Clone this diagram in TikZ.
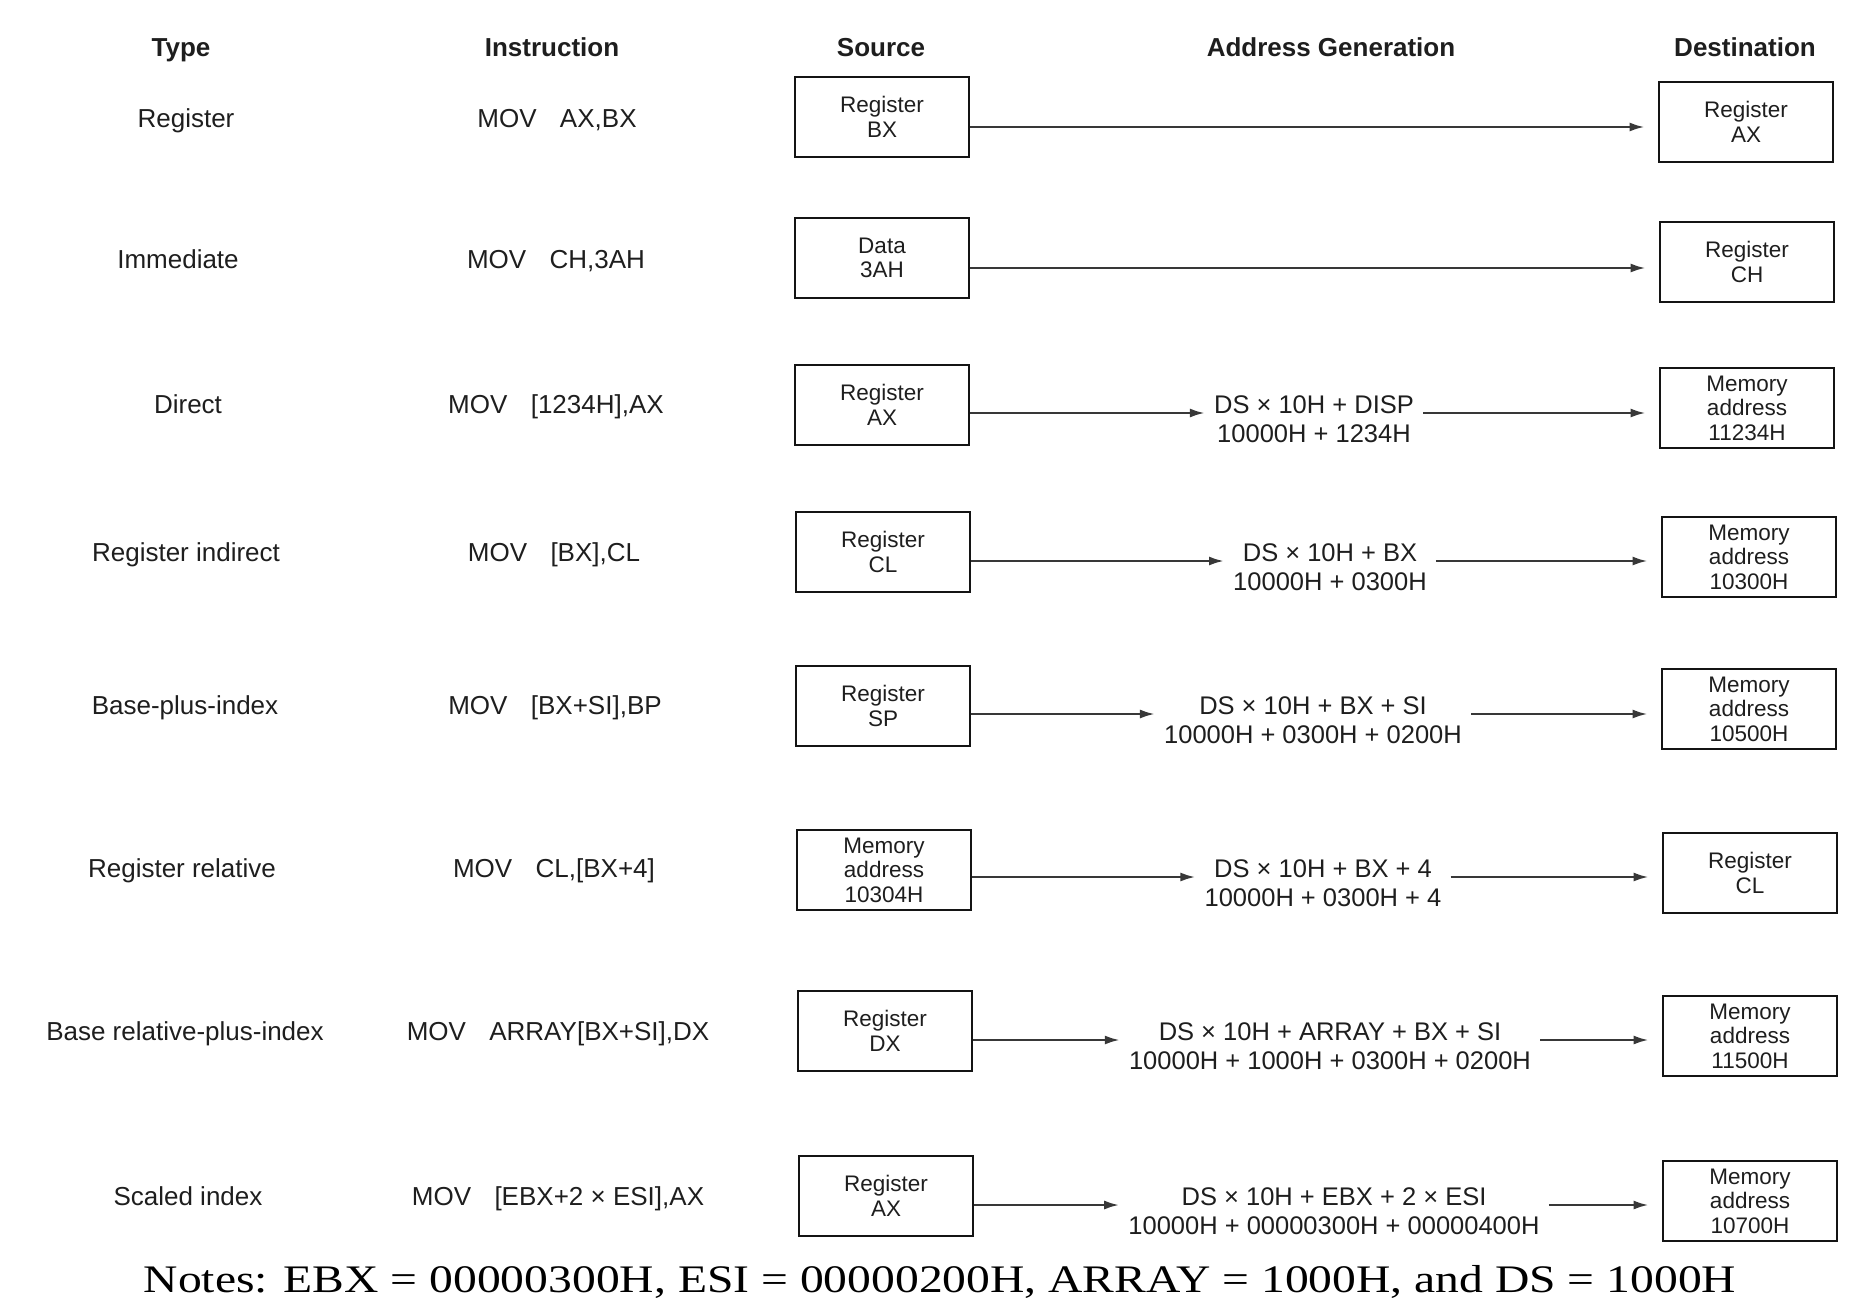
\documentclass[tikz,border=0pt]{standalone}
\usepackage{fontspec}
\setmainfont{Liberation Sans}
\newfontfamily\notasfont{Liberation Serif}[FakeStretch=1.22]
\usetikzlibrary{arrows.meta}
\definecolor{grisTexto}{HTML}{1E1E1E}
\definecolor{grisLinea}{HTML}{383838}
\colorlet{colBorde}{black!92}
\newcommand{\instr}[1]{MOV\hspace{0.9em}#1}
\newcommand{\dosLineas}[2]{\begin{tabular}[t]{@{}c@{}}#1\\#2\end{tabular}}
\tikzset{
  cajaBase/.style={
    draw=colBorde, line width=2.8pt,
    minimum width=174pt, minimum height=80pt, inner sep=0pt,
    align=center, text=grisTexto, font=\fontsize{22.5}{24.5}\selectfont
  },
  encabezado/.style={anchor=base, text=grisTexto, font=\fontsize{26}{30}\selectfont\bfseries},
  etiquetaFila/.style={anchor=base, text=grisTexto, font=\fontsize{26}{30}\selectfont},
  direccion/.style={anchor=base, text=grisTexto, inner xsep=9pt, inner ysep=0pt,
    font=\fontsize{25.5}{29.5}\selectfont},
  flecha/.style={-{Latex[length=15pt, width=9pt]}, line width=2.4pt, grisLinea},
  flechaDestino/.style={flecha, shorten >=13pt},
}
\begin{document}
\begin{tikzpicture}[x=1pt, y=-1pt]
    \useasboundingbox (0,0) rectangle (1869,1302);

    % Encabezados
    \node[encabezado] (hTipo) at (181,56) {Type};
    \node[encabezado] (hInstr) at (552,56) {Instruction};
    \node[encabezado] (hFuente) at (881,56) {Source};
    \node[encabezado] (hDir) at (1331,56) {Address Generation};
    \node[encabezado] (hDestino) at (1745,56) {Destination};

    % Lineas base de cada fila
    \coordinate (f1) at (0,127);
    \coordinate (f2) at (0,268);
    \coordinate (f3) at (0,413);
    \coordinate (f4) at (0,561);
    \coordinate (f5) at (0,714);
    \coordinate (f6) at (0,877);
    \coordinate (f7) at (0,1040);
    \coordinate (f8) at (0,1205);

    % Register
    \node[etiquetaFila] (tipo1) at (186,127) {Register};
    \node[etiquetaFila] (instr1) at (557,127) {\instr{AX,BX}};
    \node[cajaBase] (src1) at (882,117) {Register\\BX};
    \node[cajaBase] (dst1) at (1746,122) {Register\\AX};

    % Immediate
    \node[etiquetaFila] (tipo2) at (178,268) {Immediate};
    \node[etiquetaFila] (instr2) at (556,268) {\instr{CH,3AH}};
    \node[cajaBase] (src2) at (882,258) {Data\\3AH};
    \node[cajaBase] (dst2) at (1747,262) {Register\\CH};

    % Direct
    \node[etiquetaFila] (tipo3) at (188,413) {Direct};
    \node[etiquetaFila] (instr3) at (556,413) {\instr{[1234H],AX}};
    \node[cajaBase] (src3) at (882,405) {Register\\AX};
    \node[direccion] (dir3) at (1314,413) {\dosLineas{DS × 10H + DISP}{10000H + 1234H}};
    \node[cajaBase] (dst3) at (1747,408) {Memory\\address\\11234H};

    % Register indirect
    \node[etiquetaFila] (tipo4) at (186,561) {Register indirect};
    \node[etiquetaFila] (instr4) at (554,561) {\instr{[BX],CL}};
    \node[cajaBase] (src4) at (883,552) {Register\\CL};
    \node[direccion] (dir4) at (1330,561) {\dosLineas{DS × 10H + BX}{10000H + 0300H}};
    \node[cajaBase] (dst4) at (1749,557) {Memory\\address\\10300H};

    % Base-plus-index
    \node[etiquetaFila] (tipo5) at (185,714) {Base-plus-index};
    \node[etiquetaFila] (instr5) at (555,714) {\instr{[BX+SI],BP}};
    \node[cajaBase] (src5) at (883,706) {Register\\SP};
    \node[direccion] (dir5) at (1313,714) {\dosLineas{DS × 10H + BX + SI}{10000H + 0300H + 0200H}};
    \node[cajaBase] (dst5) at (1749,709) {Memory\\address\\10500H};

    % Register relative
    \node[etiquetaFila] (tipo6) at (182,877) {Register relative};
    \node[etiquetaFila] (instr6) at (554,877) {\instr{CL,[BX+4]}};
    \node[cajaBase] (src6) at (884,870) {Memory\\address\\10304H};
    \node[direccion] (dir6) at (1323,877) {\dosLineas{DS × 10H + BX + 4}{10000H + 0300H + 4}};
    \node[cajaBase] (dst6) at (1750,873) {Register\\CL};

    % Base relative-plus-index
    \node[etiquetaFila] (tipo7) at (185,1040) {Base relative-plus-index};
    \node[etiquetaFila] (instr7) at (558,1040) {\instr{ARRAY[BX+SI],DX}};
    \node[cajaBase] (src7) at (885,1031) {Register\\DX};
    \node[direccion] (dir7) at (1330,1040) {\dosLineas{DS × 10H + ARRAY + BX + SI}{10000H + 1000H + 0300H + 0200H}};
    \node[cajaBase] (dst7) at (1750,1036) {Memory\\address\\11500H};

    % Scaled index
    \node[etiquetaFila] (tipo8) at (188,1205) {Scaled index};
    \node[etiquetaFila] (instr8) at (558,1205) {\instr{[EBX+2 × ESI],AX}};
    \node[cajaBase] (src8) at (886,1196) {Register\\AX};
    \node[direccion] (dir8) at (1334,1205) {\dosLineas{DS × 10H + EBX + 2 × ESI}{10000H + 00000300H + 00000400H}};
    \node[cajaBase] (dst8) at (1750,1201) {Memory\\address\\10700H};

    % Flechas
    \draw[flechaDestino] (src1.east |- f1) -- (dst1.west |- f1);
    \draw[flechaDestino] (src2.east |- f2) -- (dst2.west |- f2);
    \draw[flecha] (src3.east |- f3) -- (dir3.west |- f3);
    \draw[flechaDestino] (dir3.east |- f3) -- (dst3.west |- f3);
    \draw[flecha] (src4.east |- f4) -- (dir4.west |- f4);
    \draw[flechaDestino] (dir4.east |- f4) -- (dst4.west |- f4);
    \draw[flecha] (src5.east |- f5) -- (dir5.west |- f5);
    \draw[flechaDestino] (dir5.east |- f5) -- (dst5.west |- f5);
    \draw[flecha] (src6.east |- f6) -- (dir6.west |- f6);
    \draw[flechaDestino] (dir6.east |- f6) -- (dst6.west |- f6);
    \draw[flecha] (src7.east |- f7) -- (dir7.west |- f7);
    \draw[flechaDestino] (dir7.east |- f7) -- (dst7.west |- f7);
    \draw[flecha] (src8.east |- f8) -- (dir8.west |- f8);
    \draw[flechaDestino] (dir8.east |- f8) -- (dst8.west |- f8);

    % Notas
    \node[anchor=base, text=black, font=\notasfont\fontsize{39}{44}\selectfont] (notas) at (940,1292)
      {Notes: EBX = 00000300H, ESI = 00000200H, ARRAY = 1000H, and DS = 1000H};
\end{tikzpicture}
\end{document}
